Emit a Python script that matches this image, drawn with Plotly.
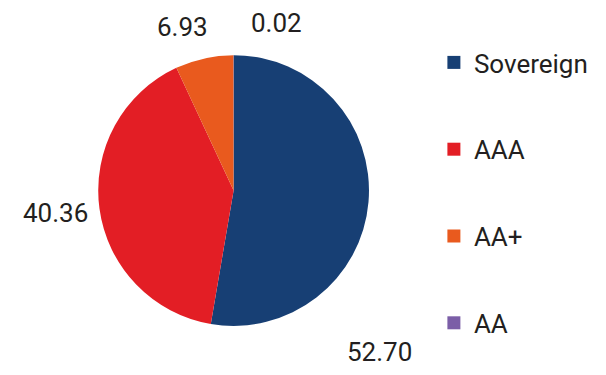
import plotly.graph_objects as go

categories = ["Sovereign", "AAA", "AA+", "AA"]
values = [52.70, 40.36, 6.93, 0.02]
colors = ["#173f74", "#e31e25", "#e95a1e", "#7b5ea7"]

# label placement (paper coords), layout config only
label_xy = [(0.627, 0.062), (0.0916, 0.433), (0.301, 0.928), (0.457, 0.939)]

fig = go.Figure()
fig.add_trace(go.Pie(
    labels=categories, values=values, sort=False, direction="clockwise",
    rotation=0, marker=dict(colors=colors, line=dict(width=0)),
    textinfo="none", showlegend=False, hoverinfo="label+value",
    domain=dict(x=[0.161, 0.610], y=[0.131, 0.853]),
))
for c, col in zip(categories, colors):
    fig.add_trace(go.Scatter(
        x=[None], y=[None], mode="markers", name=c, legendgroup=c,
        marker=dict(symbol="square", size=13, color=col),
    ))

annotations = [
    dict(x=x, y=y, xref="paper", yref="paper", text=f"{v:.2f}", showarrow=False,
         xanchor="center", yanchor="middle",
         font=dict(size=26, family="Roboto", color="#231f20"))
    for v, (x, y) in zip(values, label_xy)
]

fig.update_layout(
    width=606, height=375, margin=dict(l=0, r=0, t=0, b=0),
    paper_bgcolor="white", plot_bgcolor="white",
    font=dict(family="Roboto", size=26, color="#231f20"),
    xaxis=dict(visible=False), yaxis=dict(visible=False),
    annotations=annotations,
    legend=dict(x=0.716, y=0.896, xanchor="left", yanchor="top",
                tracegroupgap=50, itemwidth=30,
                font=dict(size=26, family="Roboto", color="#231f20")),
)
fig.write_html("out.html", config={"displayModeBar": False},
               post_script="document.body.style.margin='0';document.body.style.overflow='hidden';")
